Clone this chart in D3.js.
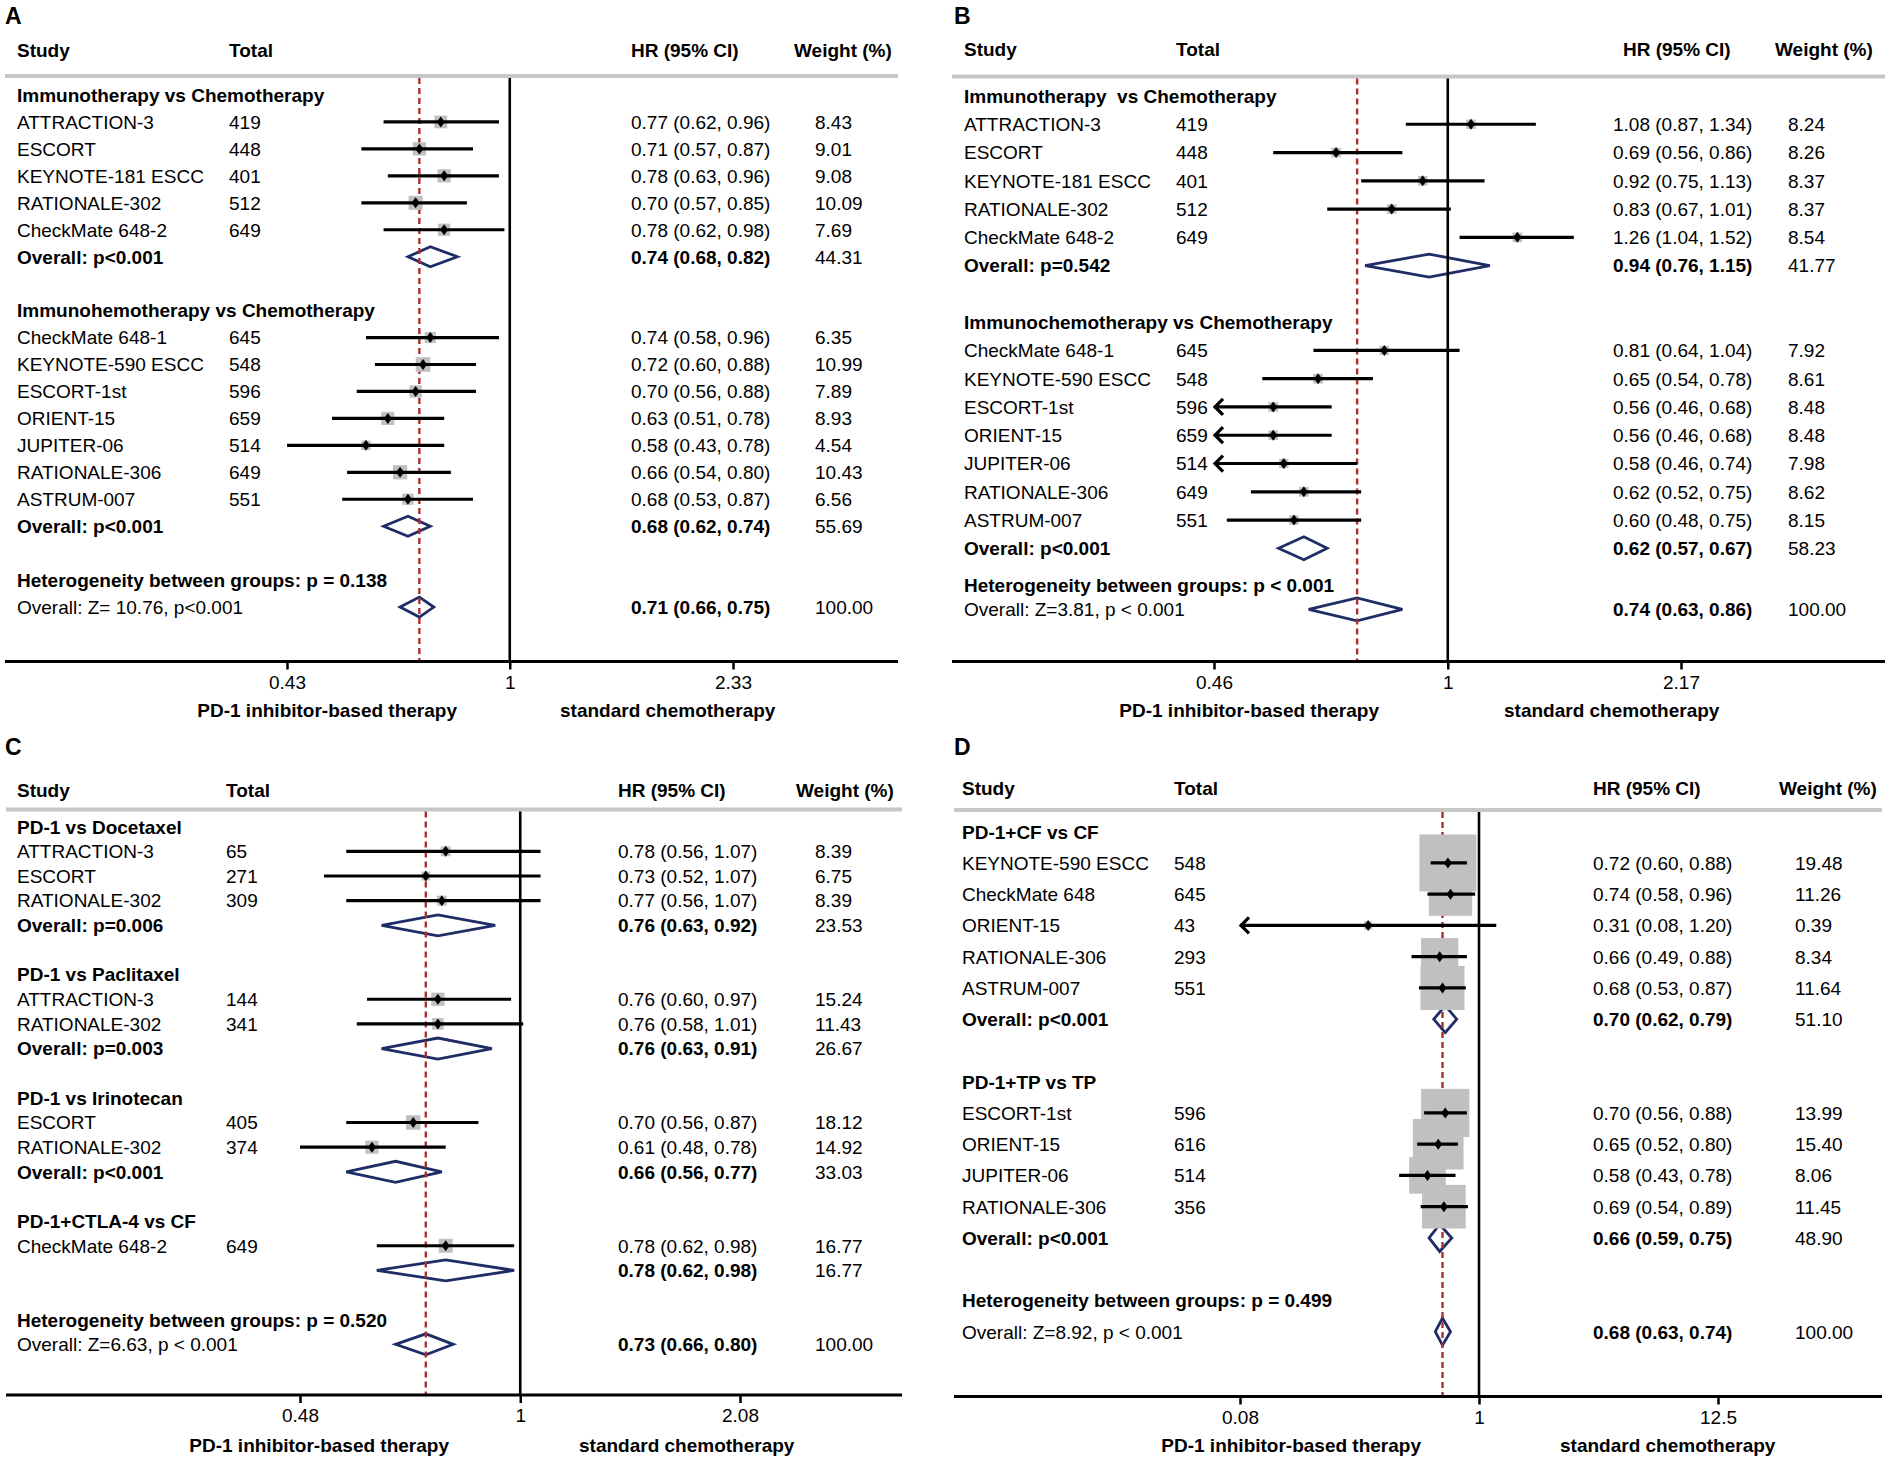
<!DOCTYPE html>
<html>
<head>
<meta charset="utf-8">
<script src="https://cdn.jsdelivr.net/npm/d3@7"></script>
<style>
  body { margin: 0; background: #fff; }
  svg text { font-family: "Liberation Sans", Arial, sans-serif; font-size: 19px; fill: #000; white-space: pre; }
</style>
</head>
<body>
<div id="chart"></div>
<script>
// ---------------- data: panel A ----------------
var aGroups = ["Immunotherapy vs Chemotherapy", "Immunohemotherapy vs Chemotherapy"];
var aStudies1 = [
    { name: "ATTRACTION-3", n: 419, hr: 0.77, lo: 0.62, hi: 0.96, w: 8.43 },
    { name: "ESCORT", n: 448, hr: 0.71, lo: 0.57, hi: 0.87, w: 9.01 },
    { name: "KEYNOTE-181 ESCC", n: 401, hr: 0.78, lo: 0.63, hi: 0.96, w: 9.08 },
    { name: "RATIONALE-302", n: 512, hr: 0.70, lo: 0.57, hi: 0.85, w: 10.09 },
    { name: "CheckMate 648-2", n: 649, hr: 0.78, lo: 0.62, hi: 0.98, w: 7.69 }
];
var aStudies2 = [
    { name: "CheckMate 648-1", n: 645, hr: 0.74, lo: 0.58, hi: 0.96, w: 6.35 },
    { name: "KEYNOTE-590 ESCC", n: 548, hr: 0.72, lo: 0.60, hi: 0.88, w: 10.99 },
    { name: "ESCORT-1st", n: 596, hr: 0.70, lo: 0.56, hi: 0.88, w: 7.89 },
    { name: "ORIENT-15", n: 659, hr: 0.63, lo: 0.51, hi: 0.78, w: 8.93 },
    { name: "JUPITER-06", n: 514, hr: 0.58, lo: 0.43, hi: 0.78, w: 4.54 },
    { name: "RATIONALE-306", n: 649, hr: 0.66, lo: 0.54, hi: 0.80, w: 10.43 },
    { name: "ASTRUM-007", n: 551, hr: 0.68, lo: 0.53, hi: 0.87, w: 6.56 }
];
var aOverall = [
    { label: "Overall: p<0.001", hr: 0.74, lo: 0.68, hi: 0.82, w: 44.31 },
    { label: "Overall: p<0.001", hr: 0.68, lo: 0.62, hi: 0.74, w: 55.69 }
];
var aTotal = { het: "Heterogeneity between groups: p = 0.138", label: "Overall: Z= 10.76, p<0.001", hr: 0.71, lo: 0.66, hi: 0.75, w: 100 };
var aTicks = [0.43, 1, 2.33];

// ---------------- data: panel B ----------------
var bGroups = ["Immunotherapy  vs Chemotherapy", "Immunochemotherapy vs Chemotherapy"];
var bStudies1 = [
    { name: "ATTRACTION-3", n: 419, hr: 1.08, lo: 0.87, hi: 1.34, w: 8.24 },
    { name: "ESCORT", n: 448, hr: 0.69, lo: 0.56, hi: 0.86, w: 8.26 },
    { name: "KEYNOTE-181 ESCC", n: 401, hr: 0.92, lo: 0.75, hi: 1.13, w: 8.37 },
    { name: "RATIONALE-302", n: 512, hr: 0.83, lo: 0.67, hi: 1.01, w: 8.37 },
    { name: "CheckMate 648-2", n: 649, hr: 1.26, lo: 1.04, hi: 1.52, w: 8.54 }
];
var bStudies2 = [
    { name: "CheckMate 648-1", n: 645, hr: 0.81, lo: 0.64, hi: 1.04, w: 7.92 },
    { name: "KEYNOTE-590 ESCC", n: 548, hr: 0.65, lo: 0.54, hi: 0.78, w: 8.61 },
    { name: "ESCORT-1st", n: 596, hr: 0.56, lo: 0.46, hi: 0.68, w: 8.48, arrow: true },
    { name: "ORIENT-15", n: 659, hr: 0.56, lo: 0.46, hi: 0.68, w: 8.48, arrow: true },
    { name: "JUPITER-06", n: 514, hr: 0.58, lo: 0.46, hi: 0.74, w: 7.98, arrow: true },
    { name: "RATIONALE-306", n: 649, hr: 0.62, lo: 0.52, hi: 0.75, w: 8.62 },
    { name: "ASTRUM-007", n: 551, hr: 0.60, lo: 0.48, hi: 0.75, w: 8.15 }
];
var bOverall = [
    { label: "Overall: p=0.542", hr: 0.94, lo: 0.76, hi: 1.15, w: 41.77 },
    { label: "Overall: p<0.001", hr: 0.62, lo: 0.57, hi: 0.67, w: 58.23 }
];
var bTotal = { het: "Heterogeneity between groups: p < 0.001", label: "Overall: Z=3.81, p < 0.001", hr: 0.74, lo: 0.63, hi: 0.86, w: 100 };
var bTicks = [0.46, 1, 2.17];

// ---------------- data: panel C ----------------
var cGroups = ["PD-1 vs Docetaxel", "PD-1 vs Paclitaxel", "PD-1 vs Irinotecan", "PD-1+CTLA-4 vs CF"];
var cStudies1 = [
    { name: "ATTRACTION-3", n: 65, hr: 0.78, lo: 0.56, hi: 1.07, w: 8.39 },
    { name: "ESCORT", n: 271, hr: 0.73, lo: 0.52, hi: 1.07, w: 6.75 },
    { name: "RATIONALE-302", n: 309, hr: 0.77, lo: 0.56, hi: 1.07, w: 8.39 }
];
var cStudies2 = [
    { name: "ATTRACTION-3", n: 144, hr: 0.76, lo: 0.60, hi: 0.97, w: 15.24 },
    { name: "RATIONALE-302", n: 341, hr: 0.76, lo: 0.58, hi: 1.01, w: 11.43 }
];
var cStudies3 = [
    { name: "ESCORT", n: 405, hr: 0.70, lo: 0.56, hi: 0.87, w: 18.12 },
    { name: "RATIONALE-302", n: 374, hr: 0.61, lo: 0.48, hi: 0.78, w: 14.92 }
];
var cStudies4 = [
    { name: "CheckMate 648-2", n: 649, hr: 0.78, lo: 0.62, hi: 0.98, w: 16.77 }
];
var cOverall = [
    { label: "Overall: p=0.006", hr: 0.76, lo: 0.63, hi: 0.92, w: 23.53 },
    { label: "Overall: p=0.003", hr: 0.76, lo: 0.63, hi: 0.91, w: 26.67 },
    { label: "Overall: p<0.001", hr: 0.66, lo: 0.56, hi: 0.77, w: 33.03 },
    { label: "", hr: 0.78, lo: 0.62, hi: 0.98, w: 16.77 }
];
var cTotal = { het: "Heterogeneity between groups: p = 0.520", label: "Overall: Z=6.63, p < 0.001", hr: 0.73, lo: 0.66, hi: 0.80, w: 100 };
var cTicks = [0.48, 1, 2.08];

// ---------------- data: panel D ----------------
var dGroups = ["PD-1+CF vs CF", "PD-1+TP vs TP"];
var dStudies1 = [
    { name: "KEYNOTE-590 ESCC", n: 548, hr: 0.72, lo: 0.60, hi: 0.88, w: 19.48 },
    { name: "CheckMate 648", n: 645, hr: 0.74, lo: 0.58, hi: 0.96, w: 11.26 },
    { name: "ORIENT-15", n: 43, hr: 0.31, lo: 0.08, hi: 1.20, w: 0.39, arrow: true },
    { name: "RATIONALE-306", n: 293, hr: 0.66, lo: 0.49, hi: 0.88, w: 8.34 },
    { name: "ASTRUM-007", n: 551, hr: 0.68, lo: 0.53, hi: 0.87, w: 11.64 }
];
var dStudies2 = [
    { name: "ESCORT-1st", n: 596, hr: 0.70, lo: 0.56, hi: 0.88, w: 13.99 },
    { name: "ORIENT-15", n: 616, hr: 0.65, lo: 0.52, hi: 0.80, w: 15.40 },
    { name: "JUPITER-06", n: 514, hr: 0.58, lo: 0.43, hi: 0.78, w: 8.06 },
    { name: "RATIONALE-306", n: 356, hr: 0.69, lo: 0.54, hi: 0.89, w: 11.45 }
];
var dOverall = [
    { label: "Overall: p<0.001", hr: 0.70, lo: 0.62, hi: 0.79, w: 51.10 },
    { label: "Overall: p<0.001", hr: 0.66, lo: 0.59, hi: 0.75, w: 48.90 }
];
var dTotal = { het: "Heterogeneity between groups: p = 0.499", label: "Overall: Z=8.92, p < 0.001", hr: 0.68, lo: 0.63, hi: 0.74, w: 100 };
var dTicks = [0.08, 1, 12.5];

var headers = ["Study", "Total", "HR (95% CI)", "Weight (%)"];
var leftTitle = "PD-1 inhibitor-based therapy";
var rightTitle = "standard chemotherapy";

// ---------------- layout ----------------
var svg = d3.select("#chart")
    .append("svg")
    .attr("width", 1890)
    .attr("height", 1459);

var navy = "#1f2d66", darkRed = "#a8302e", boxGray = "#c0c0c0";

function fmt(v) { return v.toFixed(2); }

function drawPanel(p) {
    var g = svg.append("g");

    var x = d3.scaleLog()
        .domain([p.ticks[0], p.ticks[p.ticks.length - 1]])
        .range(p.xRange);

    function rowY(i) { return p.y0 + i * p.step; }

    // build the row list: group header, studies, overall, blank
    var rows = [];
    var idx = 0;
    p.groups.forEach(function (name, gi) {
        rows.push({ kind: "group", label: name, i: idx++ });
        p.studies[gi].forEach(function (s) {
            rows.push({ kind: "study", d: s, i: idx++ });
        });
        rows.push({ kind: "overall", d: p.overall[gi], i: idx++ });
        idx++;
    });
    var hetI = idx + p.hetShift;
    rows.push({ kind: "het", label: p.total.het, i: hetI });
    rows.push({ kind: "total", d: p.total, i: hetI + p.zGap });

    var studyRows = rows.filter(function (r) { return r.kind === "study"; });
    var diamondRows = rows.filter(function (r) { return r.kind === "overall" || r.kind === "total"; });

    // panel letter
    g.append("text")
        .attr("x", p.letterX)
        .attr("y", p.letterY)
        .style("font-size", "23px")
        .style("font-weight", "bold")
        .text(p.letter);

    // column headers
    var headX = [p.studyX, p.totalX, p.hrHeadX, p.wHeadX];
    g.selectAll("text.head")
        .data(headers)
        .enter()
        .append("text")
        .attr("class", "head")
        .attr("x", function (d, i) { return headX[i]; })
        .attr("y", p.headY)
        .attr("dy", "0.36em")
        .style("font-weight", "bold")
        .text(function (d) { return d; });

    g.append("line")
        .attr("x1", p.left).attr("x2", p.right)
        .attr("y1", p.grayY).attr("y2", p.grayY)
        .attr("stroke", "#c6c6c6")
        .attr("stroke-width", 4);

    // pooled diamonds
    g.selectAll("path.diamond")
        .data(diamondRows)
        .enter()
        .append("path")
        .attr("class", "diamond")
        .attr("d", function (r) {
            var y = rowY(r.i), h = p.diaH;
            return "M" + x(r.d.lo) + "," + y + "L" + x(r.d.hr) + "," + (y - h) +
                "L" + x(r.d.hi) + "," + y + "L" + x(r.d.hr) + "," + (y + h) + "Z";
        })
        .attr("fill", "none")
        .attr("stroke", navy)
        .attr("stroke-width", 2.8);

    // overall effect dashed line
    g.append("line")
        .attr("x1", x(p.total.hr)).attr("x2", x(p.total.hr))
        .attr("y1", p.grayY + 2).attr("y2", p.axisY)
        .attr("stroke", darkRed)
        .attr("stroke-width", 2.4)
        .attr("stroke-dasharray", "6,4");

    // weight boxes
    g.selectAll("rect.box")
        .data(studyRows)
        .enter()
        .append("rect")
        .attr("class", "box")
        .attr("x", function (r) { return x(r.d.hr) - p.boxK * Math.sqrt(r.d.w) / 2; })
        .attr("y", function (r) { return rowY(r.i) - p.boxK * Math.sqrt(r.d.w) / 2; })
        .attr("width", function (r) { return p.boxK * Math.sqrt(r.d.w); })
        .attr("height", function (r) { return p.boxK * Math.sqrt(r.d.w); })
        .attr("fill", boxGray);

    // confidence intervals
    g.selectAll("line.ci")
        .data(studyRows)
        .enter()
        .append("line")
        .attr("class", "ci")
        .attr("x1", function (r) { return x(r.d.lo); })
        .attr("x2", function (r) { return x(r.d.hi); })
        .attr("y1", function (r) { return rowY(r.i); })
        .attr("y2", function (r) { return rowY(r.i); })
        .attr("stroke", "#000")
        .attr("stroke-width", 3.2);

    // arrows for truncated intervals
    g.selectAll("path.arrow")
        .data(studyRows.filter(function (r) { return r.d.arrow; }))
        .enter()
        .append("path")
        .attr("class", "arrow")
        .attr("d", function (r) {
            var x0 = x(r.d.lo), y = rowY(r.i);
            return "M" + (x0 + 9) + "," + (y - 8) + "L" + (x0 + 1) + "," + y + "L" + (x0 + 9) + "," + (y + 8);
        })
        .attr("fill", "none")
        .attr("stroke", "#000")
        .attr("stroke-width", 3.2);

    // point estimates
    g.selectAll("path.pt")
        .data(studyRows)
        .enter()
        .append("path")
        .attr("class", "pt")
        .attr("d", function (r) {
            var cx = x(r.d.hr), cy = rowY(r.i);
            return "M" + (cx - 4) + "," + cy + "L" + cx + "," + (cy - 5.5) + "L" + (cx + 4) + "," + cy + "L" + cx + "," + (cy + 5.5) + "Z";
        })
        .attr("fill", "#000");

    // line of no effect
    g.append("line")
        .attr("x1", x(1)).attr("x2", x(1))
        .attr("y1", p.grayY + 2).attr("y2", p.axisY)
        .attr("stroke", "#000")
        .attr("stroke-width", 2.6);

    // bottom axis
    g.append("line")
        .attr("x1", p.left).attr("x2", p.right)
        .attr("y1", p.axisY).attr("y2", p.axisY)
        .attr("stroke", "#000")
        .attr("stroke-width", 3);

    var ax = g.append("g")
        .attr("transform", "translate(0," + p.axisY + ")")
        .call(d3.axisBottom(x)
            .tickValues(p.ticks)
            .tickFormat(function (d) { return String(d); })
            .tickSize(8)
            .tickSizeOuter(0)
            .tickPadding(6));
    ax.select(".domain").remove();
    ax.selectAll(".tick line").attr("stroke", "#000").attr("stroke-width", 2.5);
    ax.selectAll(".tick text")
        .style("font-size", "19px")
        .style("font-family", "'Liberation Sans', Arial, sans-serif")
        .attr("fill", "#000");

    g.append("text")
        .attr("x", p.titleLeftEnd)
        .attr("y", p.titleY)
        .attr("dy", "0.36em")
        .style("text-anchor", "end")
        .style("font-weight", "bold")
        .text(leftTitle);
    g.append("text")
        .attr("x", p.titleRightStart)
        .attr("y", p.titleY)
        .attr("dy", "0.36em")
        .style("font-weight", "bold")
        .text(rightTitle);

    // row texts
    rows.forEach(function (r) {
        var y = rowY(r.i);
        var bold = r.kind !== "study";
        var label = r.kind === "group" || r.kind === "het" ? r.label :
            (r.kind === "study" ? r.d.name : r.d.label);
        g.append("text")
            .attr("x", p.studyX).attr("y", y).attr("dy", "0.36em")
            .style("font-weight", (r.kind === "total") ? "normal" : (bold ? "bold" : "normal"))
            .text(label);
        if (r.kind === "study") {
            g.append("text")
                .attr("x", p.totalX).attr("y", y).attr("dy", "0.36em")
                .text(r.d.n);
        }
        if (r.d) {
            g.append("text")
                .attr("x", p.hrX).attr("y", y).attr("dy", "0.36em")
                .style("font-weight", r.kind === "study" ? "normal" : "bold")
                .text(fmt(r.d.hr) + " (" + fmt(r.d.lo) + ", " + fmt(r.d.hi) + ")");
            g.append("text")
                .attr("x", p.wX).attr("y", y).attr("dy", "0.36em")
                .text(fmt(r.d.w));
        }
    });
}

var panels = [
    {
        letter: "A", letterX: 5, letterY: 24,
        groups: aGroups, studies: [aStudies1, aStudies2], overall: aOverall, total: aTotal, ticks: aTicks,
        left: 5, right: 898, xRange: [287, 733],
        studyX: 17, totalX: 229, hrHeadX: 631, hrX: 631, wHeadX: 794, wX: 815,
        headY: 50, grayY: 76, y0: 95, step: 26.95, hetShift: 0, zGap: 1,
        axisY: 661.5, titleY: 710, titleLeftEnd: 457, titleRightStart: 560,
        diaH: 10, boxK: 4.4
    },
    {
        letter: "B", letterX: 954, letterY: 24,
        groups: bGroups, studies: [bStudies1, bStudies2], overall: bOverall, total: bTotal, ticks: bTicks,
        left: 952, right: 1885, xRange: [1214, 1681],
        studyX: 964, totalX: 1176, hrHeadX: 1623, hrX: 1613, wHeadX: 1775, wX: 1788,
        headY: 49.5, grayY: 76.5, y0: 96, step: 28.27, hetShift: -0.7, zGap: 0.86,
        axisY: 661.5, titleY: 710, titleLeftEnd: 1379, titleRightStart: 1504,
        diaH: 11.5, boxK: 3.3
    },
    {
        letter: "C", letterX: 5, letterY: 755,
        groups: cGroups, studies: [cStudies1, cStudies2, cStudies3, cStudies4], overall: cOverall, total: cTotal, ticks: cTicks,
        left: 6, right: 902, xRange: [300, 740],
        studyX: 17, totalX: 226, hrHeadX: 618, hrX: 618, wHeadX: 796, wX: 815,
        headY: 790, grayY: 809.5, y0: 826.7, step: 24.65, hetShift: 0, zGap: 1,
        axisY: 1395, titleY: 1445, titleLeftEnd: 449, titleRightStart: 579,
        diaH: 10.5, boxK: 3.4
    },
    {
        letter: "D", letterX: 954, letterY: 755,
        groups: dGroups, studies: [dStudies1, dStudies2], overall: dOverall, total: dTotal, ticks: dTicks,
        left: 954, right: 1882, xRange: [1240, 1718],
        studyX: 962, totalX: 1174, hrHeadX: 1593, hrX: 1593, wHeadX: 1779, wX: 1795,
        headY: 788.5, grayY: 810, y0: 831.7, step: 31.25, hetShift: 0, zGap: 1,
        axisY: 1396.5, titleY: 1445, titleLeftEnd: 1421, titleRightStart: 1560,
        diaH: 13.5, boxK: 12.9
    }
];

panels.forEach(drawPanel);
</script>
</body>
</html>
